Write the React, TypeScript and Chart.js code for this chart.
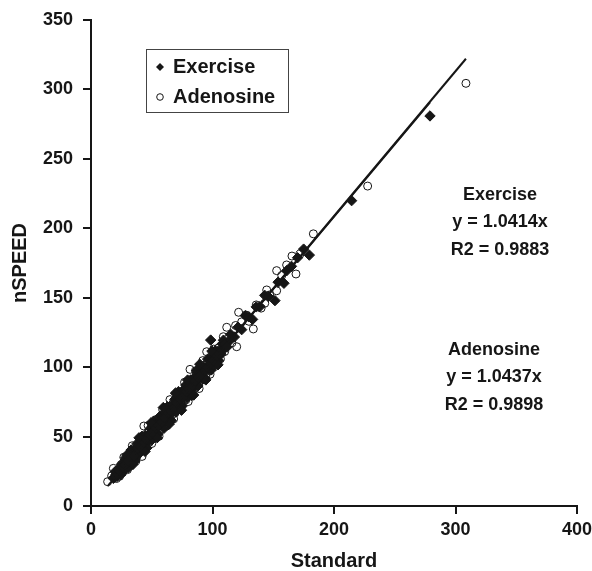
import React, { useEffect, useRef } from "react";
import { Chart, registerables } from "chart.js";
Chart.register(...registerables);

// ---------- data ----------
const xTickValues = [0, 100, 200, 300, 400];
const yTickValues = [0, 50, 100, 150, 200, 250, 300, 350];

const exerciseX = [
  18.4, 20.5, 21.5, 23, 24, 25, 26.5, 27, 28.5, 29, 30, 31, 32, 33, 34, 35, 36, 37, 38, 39,
  40, 41, 42, 43, 44, 45, 46, 47, 48, 49, 50, 51, 52, 53, 54, 55, 56, 57, 58, 59,
  60, 61, 62, 63, 64, 65, 66, 67, 68, 69, 70, 71, 72, 73, 74, 75, 76, 77, 78, 79,
  80, 81, 82, 83, 84, 85, 86, 87, 88, 89, 90, 91, 92, 93, 94, 95, 96, 97, 98, 99,
  100, 101, 102, 103, 104, 105, 106, 107, 108,
  22.5, 27.5, 32.5, 37.5, 42.5, 47.5, 52.5, 57.5, 62.5, 67.5, 72.5, 77.5, 82.5, 87.5, 92.5, 97.5, 102.5,
  20, 24.5, 29.5, 34.5, 39.5, 44.5, 49.5, 54.5, 59.5, 64.5, 69.5, 74.5, 79.5, 84.5, 89.5, 94.5, 99.5, 104.5, 109,
  19.5, 23.5, 26, 28, 30.5, 33.5, 35.5, 38.5, 40.5, 43.5, 45.5, 48.5, 50.5, 53.5, 55.5, 58.5, 60.5, 63.5, 65.5,
  68.5, 70.5, 73.5, 75.5, 78.5, 80.5, 83.5, 85.5, 88.5, 90.5, 93.5, 95.5, 98.5, 100.5, 103.5, 105.5, 107.5, 110.5, 113.5,
  98.5, 110, 112, 115, 118, 121, 124, 127, 130, 133, 136, 139, 143, 146, 151.4, 154, 158.8, 161, 165, 170,
  175, 179.7, 214.5, 279,
];
const exerciseY = [
  19.9, 22.8, 21.4, 26.9, 23.5, 30.0, 25.1, 29.1, 34.6, 27.2, 33.2, 27.7, 33.8, 40.3, 33.4, 39.9, 32.4, 40.0, 45.0, 37.1,
  44.1, 41.6, 50.2, 40.7, 45.8, 50.8, 41.8, 50.9, 47.4, 56.0, 47.5, 54.0, 61.1, 52.1, 59.2, 51.7, 58.7, 64.8, 58.3, 63.9,
  55.9, 67.4, 63.0, 71.5, 62.6, 69.1, 61.6, 73.2, 68.2, 76.8, 67.8, 75.8, 82.4, 72.4, 77.5, 72.0, 83.5, 79.1, 87.1, 77.7,
  85.2, 81.7, 90.8, 79.8, 88.4, 92.4, 86.4, 97.5, 86.5, 95.1, 92.1, 99.6, 91.7, 99.7, 91.8, 99.3, 105.8, 98.4, 105.9, 98.0,
  105.5, 101.5, 111.6, 106.1, 111.2, 104.7, 112.2, 109.3, 116.8,
  23.9, 31.1, 32.3, 42.0, 41.7, 50.4, 53.6, 61.8, 65.5, 69.7, 76.9, 83.1, 84.3, 91.5, 97.7, 100.9, 107.1,
  24.8, 22.5, 36.7, 29.9, 49.1, 39.3, 60.0, 49.2, 70.9, 59.1, 81.3, 69.0, 90.7, 79.9, 102.1, 90.8, 111.5, 101.7, 119.4,
  21.0, 25.5, 28.0, 29.6, 32.5, 35.6, 36.0, 41.5, 42.9, 45.8, 48.0, 51.0, 53.0, 56.2, 58.0, 60.5, 63.5, 66.9, 68.5,
  71.0, 74.2, 76.8, 78.2, 82.5, 84.0, 86.5, 89.8, 92.5, 94.5, 97.0, 99.8, 102.5, 104.6, 108.0, 109.5, 112.5, 114.0, 118.5,
  119.5, 116.4, 114.5, 123.6, 121.7, 128.8, 127.0, 137.1, 136.2, 134.4, 143.4, 143.6, 151.7, 150.8, 147.9, 161.2, 160.4, 169.4, 172.6, 178.8,
  185.0, 180.7, 219.9, 280.9,
];

const adenosineX = [
  13.7, 18.4, 19.8, 22, 23.5, 25, 26, 28, 29.5, 31, 32, 33.5, 35, 36.5, 38, 39, 39.8, 41, 43.5, 44,
  45.3, 46.5, 48, 49.5, 51, 52.5, 54, 55.5, 57, 58.5, 60, 61.5, 63, 64.5, 66, 67.5, 69, 70.5, 72, 73.5,
  75, 76.5, 78, 79.5, 80.9, 82.8, 81.5, 84, 85.5, 87, 88.5, 90, 91.5, 93, 94.5, 95.2, 96, 97.5, 99, 100.5,
  102, 103.5, 105, 106.5, 108.9, 110, 111.7, 113, 116, 119, 119.9, 121.5, 124, 127.6, 130, 133.6, 136, 140, 143, 144.6,
  147, 152.8, 152.8, 157, 161, 165.4, 168.7, 172, 183, 227.7, 308.6,
  17, 21, 27, 30, 34, 37, 42, 47, 50, 53, 56, 59, 62, 65, 68, 71, 74, 77, 80, 86, 89, 92, 98, 101, 104,
];
const adenosineY = [
  17.5, 27.1, 20.5, 25.8, 21.4, 29.9, 24.2, 32.5, 28.0, 36.2, 30.1, 40.5, 34.0, 42.3, 36.1, 38.4, 40.3, 47.6, 57.6, 44.2,
  42.7, 52.8, 46.0, 55.7, 49.3, 58.9, 52.2, 61.8, 55.0, 64.9, 58.1, 67.6, 60.8, 70.9, 64.5, 74.0, 66.9, 76.6, 70.1, 79.8,
  73.0, 83.1, 76.4, 86.0, 79.9, 79.2, 98.4, 91.5, 84.6, 94.8, 87.9, 98.0, 90.7, 101.4, 93.6, 111.1, 104.0, 97.2, 107.6, 100.4,
  110.5, 103.8, 113.9, 106.0, 121.9, 111.2, 128.7, 120.8, 117.5, 130.0, 114.7, 139.5, 132.6, 137.5, 133.0, 127.5, 144.8, 142.5, 146.0, 155.6,
  152.0, 155.0, 169.5, 166.0, 173.6, 180.0, 167.1, 181.5, 196.0, 230.4, 304.4,
  21.7, 19.8, 35.1, 26.2, 43.4, 32.5, 35.7, 57.9, 45.0, 62.1, 50.2, 69.4, 57.5, 76.6, 62.7, 81.8, 70.0, 89.1, 75.2, 97.4, 84.6, 104.7, 94.9, 113.0, 102.2,
];

// trendline end points (from the equations shown in the chart)
const exerciseFitX = [18.4, 279];
const exerciseFitY = [19.2, 290.6];
const adenosineFitX = [13.7, 308.6];
const adenosineFitY = [14.3, 322.1];

const seriesNames = ["Exercise", "Adenosine"];
const exerciseNote = ["Exercise", "y = 1.0414x", "R2 = 0.9883"];
const adenosineNote = ["Adenosine", "y = 1.0437x", "R2 = 0.9898"];
const xTitle = "Standard";
const yTitle = "nSPEED";

const zip = (xs: number[], ys: number[]) => xs.map((x, i) => ({ x, y: ys[i] }));

const FONT = "'Liberation Sans', Arial, Helvetica, sans-serif";
const INK = "#161616";

const overlayPlugin = {
  id: "overlay",
  afterDraw(chart: any) {
    const ctx = chart.ctx as CanvasRenderingContext2D;
    ctx.save();
    // legend box
    ctx.strokeStyle = "#444";
    ctx.lineWidth = 1;
    ctx.fillStyle = "#fff";
    ctx.fillRect(146.5, 49.5, 142, 63);
    ctx.strokeRect(146.5, 49.5, 142, 63);
    // legend markers
    ctx.fillStyle = INK;
    ctx.beginPath();
    ctx.moveTo(160, 63);
    ctx.lineTo(164, 67);
    ctx.lineTo(160, 71);
    ctx.lineTo(156, 67);
    ctx.closePath();
    ctx.fill();
    ctx.beginPath();
    ctx.arc(160, 97, 3.3, 0, Math.PI * 2);
    ctx.fillStyle = "#fff";
    ctx.fill();
    ctx.strokeStyle = INK;
    ctx.lineWidth = 1;
    ctx.stroke();
    // legend text
    ctx.fillStyle = INK;
    ctx.font = `bold 20px ${FONT}`;
    ctx.textAlign = "left";
    ctx.textBaseline = "middle";
    ctx.fillText(seriesNames[0], 173, 67);
    ctx.fillText(seriesNames[1], 173, 97);
    // annotations
    ctx.font = `bold 18px ${FONT}`;
    ctx.textAlign = "center";
    exerciseNote.forEach((t, i) => ctx.fillText(t, 500, 195 + i * 27.5));
    adenosineNote.forEach((t, i) => ctx.fillText(t, 494, 350 + i * 27.5));
    ctx.restore();
  },
};

export default function App() {
  const ref = useRef<HTMLCanvasElement>(null);
  useEffect(() => {
    document.body.style.margin = "0";
    const canvas = ref.current!;
    const chart = new Chart(canvas, {
      type: "scatter",
      data: {
        datasets: [
          {
            label: seriesNames[0],
            data: zip(exerciseX, exerciseY),
            pointStyle: "rectRot",
            pointRadius: 5.2,
            backgroundColor: INK,
            borderColor: INK,
            borderWidth: 1,
            order: 1,
          },
          {
            label: seriesNames[1],
            data: zip(adenosineX, adenosineY),
            pointStyle: "circle",
            pointRadius: 4,
            backgroundColor: "rgba(255,255,255,0)",
            borderColor: INK,
            borderWidth: 1,
            order: 2,
          },
          {
            type: "line",
            label: "Exercise fit",
            data: zip(exerciseFitX, exerciseFitY),
            borderColor: INK,
            borderWidth: 2,
            pointRadius: 0,
            showLine: true,
            fill: false,
            order: 0,
          } as any,
          {
            type: "line",
            label: "Adenosine fit",
            data: zip(adenosineFitX, adenosineFitY),
            borderColor: INK,
            borderWidth: 2,
            pointRadius: 0,
            showLine: true,
            fill: false,
            order: 0,
          } as any,
        ],
      },
      options: {
        animation: false,
        responsive: false,
        devicePixelRatio: 1,
        layout: { padding: { left: 8, top: 20, right: 15, bottom: 0 } },
        plugins: { legend: { display: false }, tooltip: { enabled: false } },
        scales: {
          x: {
            type: "linear",
            min: 0,
            max: 400,
            afterBuildTicks: (s: any) => {
              s.ticks = xTickValues.map((v) => ({ value: v }));
            },
            afterFit: (s: any) => {
              s.height = 65;
              s.paddingRight = 10;
              s.paddingLeft = 10;
            },
            ticks: { color: INK, font: { family: FONT, size: 18, weight: "bold" }, padding: 5, maxRotation: 0 },
            grid: { display: true, drawOnChartArea: false, drawTicks: true, tickLength: 8, color: INK, lineWidth: 2 },
            border: { display: true, color: INK, width: 2 },
            title: {
              display: true,
              text: xTitle,
              color: INK,
              font: { family: FONT, size: 20, weight: "bold", lineHeight: 1 },
              padding: 0,
            },
          },
          y: {
            type: "linear",
            min: 0,
            max: 350,
            afterBuildTicks: (s: any) => {
              s.ticks = yTickValues.map((v) => ({ value: v }));
            },
            afterFit: (s: any) => {
              s.width = 83;
              s.paddingTop = 10;
              s.paddingBottom = 10;
            },
            ticks: { color: INK, font: { family: FONT, size: 18, weight: "bold" }, padding: 10 },
            grid: { display: true, drawOnChartArea: false, drawTicks: true, tickLength: 8, color: INK, lineWidth: 2 },
            border: { display: true, color: INK, width: 2 },
            title: {
              display: true,
              text: yTitle,
              color: INK,
              font: { family: FONT, size: 20, weight: "bold", lineHeight: 1.2 },
              padding: 0,
            },
          },
        },
      },
      plugins: [overlayPlugin],
    });
    return () => chart.destroy();
  }, []);
  return (
    <div style={{ width: 592, height: 571, background: "#fff" }}>
      <canvas ref={ref} width={592} height={571} style={{ display: "block" }} />
    </div>
  );
}
